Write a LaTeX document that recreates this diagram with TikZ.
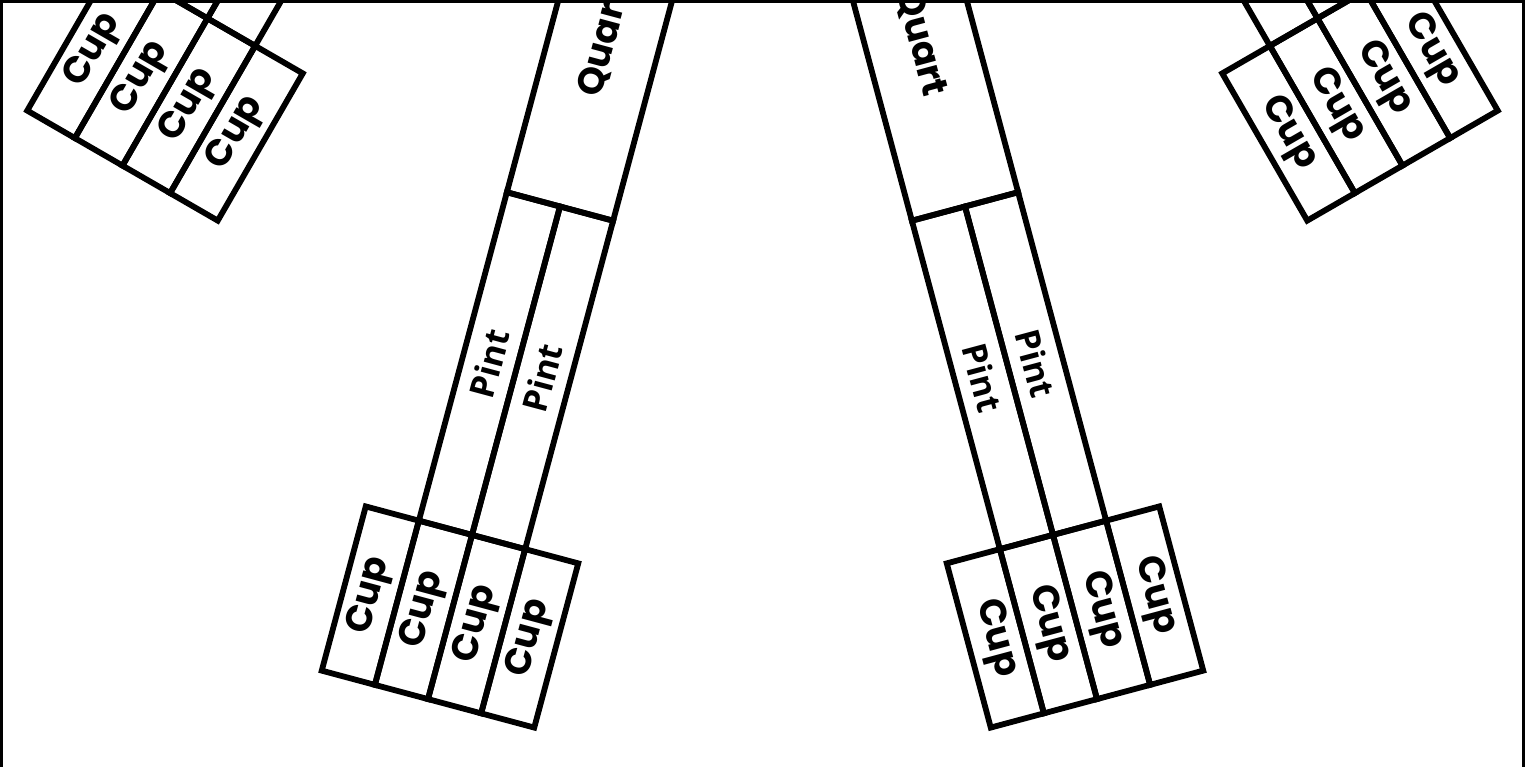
\documentclass[tikz,border=0pt]{standalone}
\usepackage{fontspec}
\newfontfamily\cupfont{Poppins}
\newfontfamily\pintfont{Open Sans}
\begin{document}
\begin{tikzpicture}[x=0.5pt,y=0.5pt,
  piece/.style={draw=black, line width=2.9pt, inner sep=0pt, rectangle, text=black},
  cupbox/.style={piece, minimum width=85pt, minimum height=27.5pt,
    font=\cupfont\bfseries\fontsize{18.5}{18.5}\selectfont},
  pintbox/.style={piece, minimum width=170pt, minimum height=27.5pt,
    font=\pintfont\bfseries\fontsize{17}{17}\selectfont},
  quartbox/.style={piece, minimum width=170pt, minimum height=55pt,
    font=\cupfont\bfseries\fontsize{18.5}{18.5}\selectfont},
  frameline/.style={draw=black, line width=3pt}]
\useasboundingbox (0,0) rectangle (1525,767);
\begin{scope}
\clip (0,0) rectangle (1525,767);
% lower-left arm
\begin{scope}[shift={(450,150)}, rotate=-15, transform shape]
  \node[quartbox, rotate=90] (LQ) at (0,595) {Quart};
  \node[pintbox, rotate=90] (LP1) at (-27.5,255) {Pint};
  \node[pintbox, rotate=90] (LP2) at (27.5,255) {Pint};
  \node[cupbox, rotate=90] (LC1) at (-82.5,0) {Cup};
  \node[cupbox, rotate=90] (LC2) at (-27.5,0) {Cup};
  \node[cupbox, rotate=90] (LC3) at (27.5,0) {Cup};
  \node[cupbox, rotate=90] (LC4) at (82.5,0) {Cup};
\end{scope}
% lower-right arm
\begin{scope}[shift={(1075,150)}, rotate=15, transform shape]
  \node[quartbox, rotate=-90] (RQ) at (0,595) {Quart};
  \node[pintbox, rotate=-90] (RP1) at (-27.5,255) {Pint};
  \node[pintbox, rotate=-90] (RP2) at (27.5,255) {Pint};
  \node[cupbox, rotate=-90] (RC1) at (-82.5,0) {Cup};
  \node[cupbox, rotate=-90] (RC2) at (-27.5,0) {Cup};
  \node[cupbox, rotate=-90] (RC3) at (27.5,0) {Cup};
  \node[cupbox, rotate=-90] (RC4) at (82.5,0) {Cup};
\end{scope}
% upper-left arm
\begin{scope}[shift={(165,675)}, rotate=-30, transform shape]
  \node[pintbox, rotate=90] (ULP1) at (-27.5,255) {};
  \node[pintbox, rotate=90] (ULP2) at (27.5,255) {};
  \node[cupbox, rotate=90] (ULC1) at (-82.5,0) {Cup};
  \node[cupbox, rotate=90] (ULC2) at (-27.5,0) {Cup};
  \node[cupbox, rotate=90] (ULC3) at (27.5,0) {Cup};
  \node[cupbox, rotate=90] (ULC4) at (82.5,0) {Cup};
\end{scope}
% upper-right arm
\begin{scope}[shift={(1360,675)}, rotate=30, transform shape]
  \node[pintbox, rotate=-90] (URP1) at (-27.5,255) {};
  \node[pintbox, rotate=-90] (URP2) at (27.5,255) {};
  \node[cupbox, rotate=-90] (URC1) at (-82.5,0) {Cup};
  \node[cupbox, rotate=-90] (URC2) at (-27.5,0) {Cup};
  \node[cupbox, rotate=-90] (URC3) at (27.5,0) {Cup};
  \node[cupbox, rotate=-90] (URC4) at (82.5,0) {Cup};
\end{scope}
% frame
\draw[frameline] (0,0) -- (0,767) -- (1525,767) -- (1525,0);
\end{scope}
\end{tikzpicture}
\end{document}
